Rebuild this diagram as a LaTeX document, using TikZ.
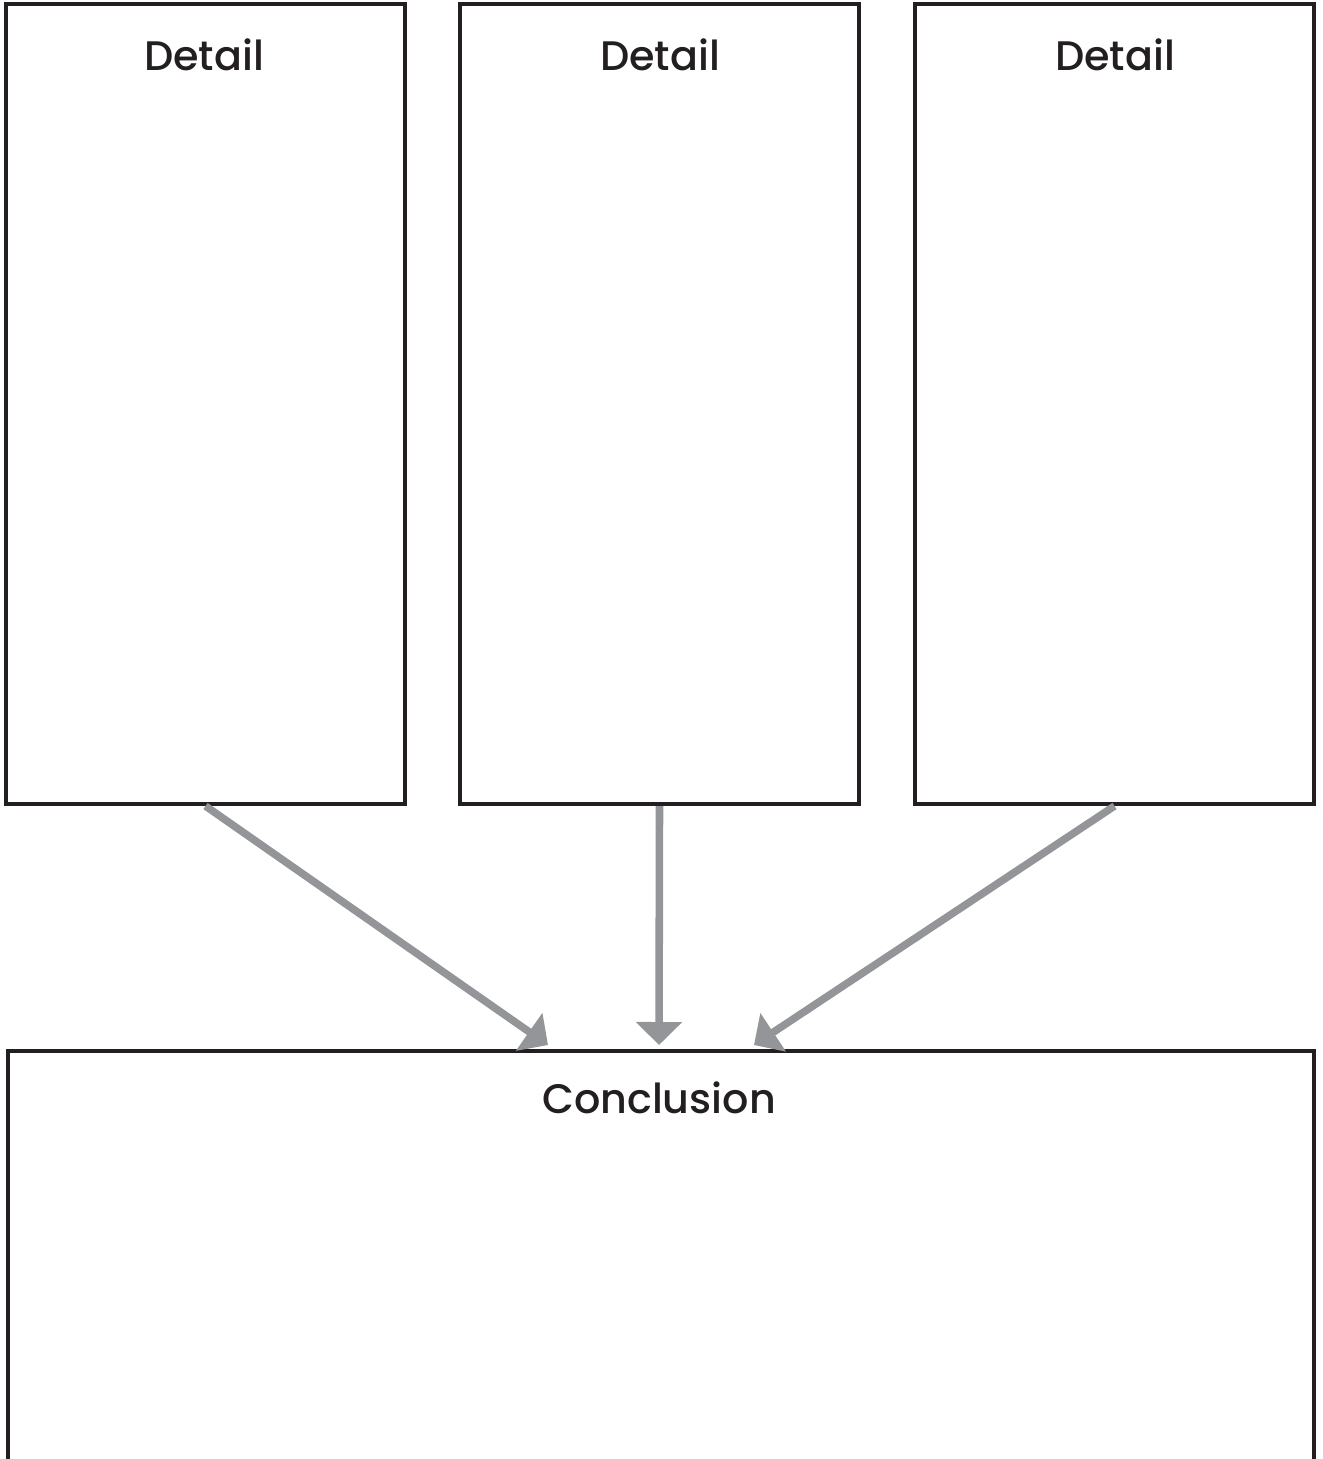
\documentclass[tikz,border=0pt]{standalone}
\usepackage{fontspec}
\setmainfont{Poppins}[BoldFont={Poppins Medium}]
\usepackage{tikz}
\usetikzlibrary{positioning}
\usetikzlibrary{arrows.meta}
\usepackage{xcolor}
\definecolor{inkblack}{HTML}{231F20}
\definecolor{arrowgray}{HTML}{939598}

\begin{document}
\begin{tikzpicture}[x=0.02cm, y=-0.02cm,
    boxstyle/.style={draw=inkblack, line width=2.4pt, rectangle, inner sep=0pt},
    titlestyle/.style={text=inkblack, font=\fontsize{23.5}{28}\selectfont\bfseries},
    pointer/.style={draw=arrowgray, line width=4.3pt,
        -{Triangle[length=0.46cm, width=0.9cm]}}]
    \useasboundingbox (0,0) rectangle (1322,1459);
    \clip (0,0) rectangle (1322,1459);

    % Detail boxes
    \node[boxstyle, minimum width=7.98cm, minimum height=16cm] 
        (left) at (205.5,404) {};
    \node[boxstyle, minimum width=7.98cm, minimum height=16cm] 
        (middle) at (659.5,404) {};
    \node[boxstyle, minimum width=7.98cm, minimum height=16cm] 
        (right) at (1114.5,404) {};

    % Titles
    \node[titlestyle] (lefttitle) at (204,55) {Detail};
    \node[titlestyle] (middletitle) at (660,55) {Detail};
    \node[titlestyle] (righttitle) at (1115,55) {Detail};

    % Conclusion box (runs off the bottom)
    \node[boxstyle, minimum width=26.12cm, minimum height=10cm, anchor=north] 
        (concl) at (661,1049) {};
    \node[titlestyle] (concltitle) at (659,1098) {Conclusion};

    % Arrow ends
    \coordinate (tipleft) at (548,1045);
    \coordinate (tipmiddle) at (659,1045);
    \coordinate (tipright) at (754,1045);

    % Arrows
    \draw[pointer] (left.south) -- (tipleft);
    \draw[pointer] (middle.south) -- (tipmiddle);
    \draw[pointer] (right.south) -- (tipright);
\end{tikzpicture}
\end{document}
